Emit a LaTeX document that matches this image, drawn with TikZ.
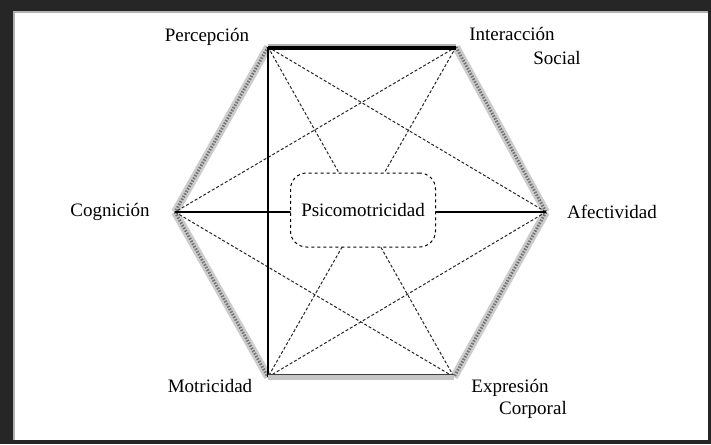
\documentclass[tikz,border=0pt]{standalone}
\usepackage{fontspec}
\setmainfont{Liberation Serif}
\tikzset{lab/.style={font=\fontsize{19}{20}\selectfont,inner sep=0pt},
side/.style={line width=8pt,draw=gray!40},
hatch/.style={line width=3pt,dash pattern=on 1.5pt off 1.5pt,draw=black!55},
diag/.style={dash pattern=on 3pt off 2pt,line width=1pt,draw=black!85}}
\begin{document}
\begin{tikzpicture}[x=1pt,y=-1pt]
\fill[black!85](0,0)rectangle(711,444);
\fill[white](13,11)rectangle(708,440);
\draw[gray!60,line width=1.5pt](14,440)--(14,12)--(708,12);
\coordinate(P) at(268,47);\coordinate(S) at(456,47);\coordinate(A) at(546,212);
\coordinate(ET) at(454,377);\coordinate(M) at(268,377);\coordinate(C) at(175,212);
\foreach \a/\b in {P/C,C/M,S/A,A/ET}{\draw[side](\a)--(\b);\draw[hatch](\a)--(\b);}
\foreach \a/\b in {P/A,P/ET,S/C,S/M,C/ET,A/M}\draw[diag](\a)--(\b);
\draw[line width=1.3pt](P)--(M);\draw[line width=1.3pt](C)--(A);
\draw[line width=6pt,gray!60](P)--(S);\draw[line width=4pt]([yshift=-1.5pt]P)--([yshift=-1.5pt]S);
\draw[line width=5pt,gray!45](M)--(ET);\draw[line width=1.5pt,black!75]([yshift=2.5pt]M)--([yshift=2.5pt]ET);
\node[draw,dashed,line width=1pt,rounded corners=16pt,fill=white,minimum width=145pt,minimum height=74pt,lab](psi) at(363,210){Psicomotricidad};
\node[lab](lP) at(207,37){Percepción};
\node[lab](lS1) at(512,34){Interacción};\node[lab](lS2) at(557,58){Social};
\node[lab](lC) at(110,212){Cognición};
\node[lab](lA) at(612,212){Afectividad};
\node[lab](lM) at(210,386){Motricidad};
\node[lab](lE1) at(510,388){Expresión};\node[lab](lE2) at(533,410){Corporal};
\end{tikzpicture}
\end{document}
